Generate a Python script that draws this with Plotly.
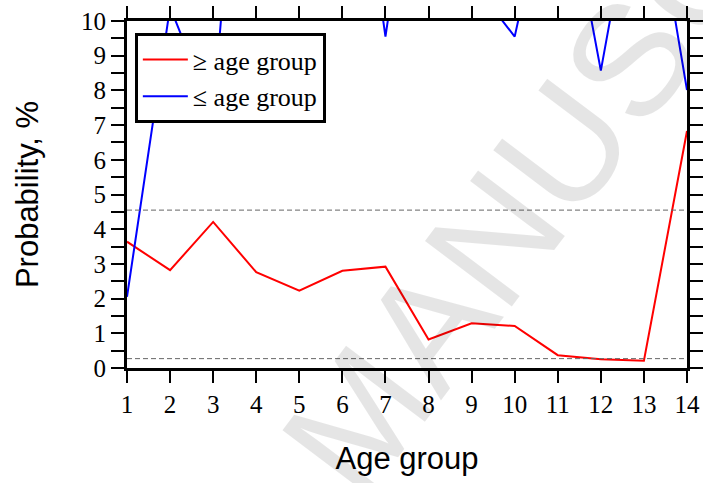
import plotly.graph_objects as go

age_groups = list(range(1, 15))
ge_age_group = [3.64, 2.82, 4.21, 2.76, 2.23, 2.80, 2.92, 0.82, 1.29, 1.21, 0.37, 0.25, 0.21, 6.83]
le_age_group = [2.05, 10.4, 7.29, 22.4, 20.0, 18.4, 9.55, 18.0, 11.15, 9.55, 15.2, 8.57, 15.4, 8.01]
threshold_levels = [4.55, 0.27]
x_tick_labels = [str(v) for v in age_groups]
y_tick_values = list(range(0, 11))

serif = "Liberation Serif"
sans = "Liberation Sans"

fig = go.Figure()
fig.add_trace(go.Scatter(x=age_groups, y=ge_age_group, mode="lines", name="≥ age group",
                         line=dict(color="#ff0000", width=2)))
fig.add_trace(go.Scatter(x=age_groups, y=le_age_group, mode="lines", name="≤ age group",
                         line=dict(color="#0000ff", width=2)))
for lvl in threshold_levels:
    fig.add_hline(y=lvl, line=dict(color="#666666", width=1, dash="5px,3px"))

fig.add_annotation(text="ACCEPTED MANUSCRIPT", xref="paper", yref="paper", x=0.415, y=-0.14,
                   xanchor="center", yanchor="middle",
                   showarrow=False, textangle=-53,
                   font=dict(family=sans, size=158, color="rgba(0,0,0,0.1)"))

fig.update_layout(
    width=703, height=483,
    margin=dict(l=127, r=16, t=21, b=115),
    plot_bgcolor="white", paper_bgcolor="white",
    showlegend=True,
    legend=dict(x=0.014, y=0.965, xanchor="left", yanchor="top",
                bgcolor="white", bordercolor="black", borderwidth=3,
                font=dict(family=serif, size=26, color="black"),
                itemwidth=45, tracegroupgap=0),
    xaxis=dict(range=[1, 14], tickmode="array", tickvals=age_groups, ticktext=x_tick_labels,
               showgrid=False, zeroline=False, automargin=False,
               showline=True, linecolor="black", linewidth=3, mirror="ticks",
               ticks="outside", ticklen=12, tickwidth=1.5, tickcolor="black",
               tickfont=dict(family=serif, size=25, color="black"),
               title=dict(text="Age group", font=dict(family=sans, size=31, color="black"), standoff=31)),
    yaxis=dict(range=[0, 10], tickmode="array", tickvals=y_tick_values,
               showgrid=False, zeroline=False, automargin=False,
               showline=True, linecolor="black", linewidth=3, mirror="ticks",
               ticks="outside", ticklen=13, tickwidth=1.5, tickcolor="black",
               minor=dict(dtick=0.5, ticks="outside", ticklen=13, tickwidth=1.5, tickcolor="black", showgrid=False),
               tickfont=dict(family=serif, size=25, color="black"),
               title=dict(text="Probability, %", font=dict(family=sans, size=31, color="black"), standoff=34)),
)

fig.write_html("out.html", config={"displayModeBar": False},
               post_script="document.body.style.margin='0px';document.body.style.overflow='hidden';")
